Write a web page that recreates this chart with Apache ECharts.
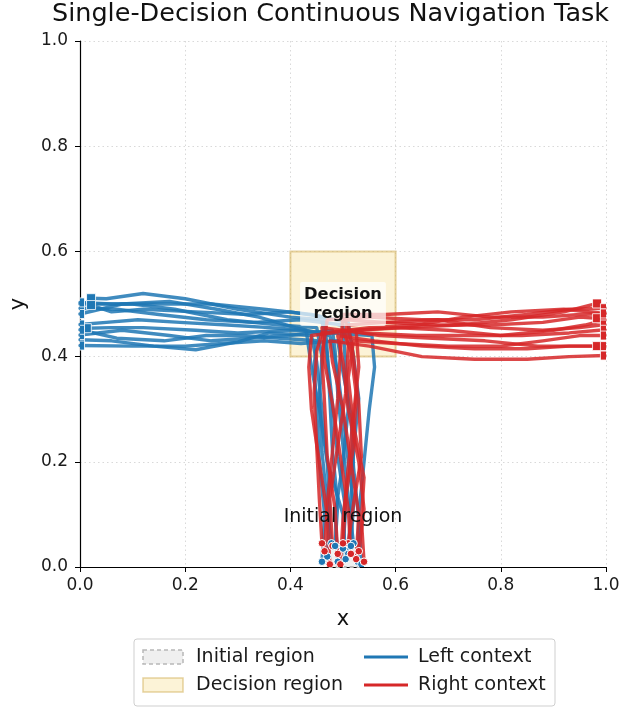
<!DOCTYPE html>
<html><head><meta charset="utf-8">
<script src="https://cdn.jsdelivr.net/npm/echarts@6/dist/echarts.min.js"></script>
<style>html,body{margin:0;padding:0;background:#fff}#c{width:634px;height:709px}</style>
</head><body><div id="c"></div>
<script>
// ---- data ----
const xTicks = [0.0, 0.2, 0.4, 0.6, 0.8, 1.0];
const yTicks = [0.0, 0.2, 0.4, 0.6, 0.8, 1.0];
const initialRegion = [0.47, 0.53, 0.0, 0.05];   // xmin, xmax, ymin, ymax
const decisionRegion = [0.4, 0.6, 0.4, 0.6];     // xmin, xmax, ymin, ymax
const initialLabelAt = [0.5, 0.095];
const decisionLabelAt = [0.5, 0.5];
const legendNames = ['Initial region', 'Decision region', 'Left context', 'Right context'];

const leftTrajectories = [
  [[0.478,0.045],[0.47,0.12],[0.46,0.22],[0.455,0.32],[0.46,0.40],[0.45,0.455],[0.38,0.46],[0.28,0.47],[0.18,0.49],[0.10,0.50],[0.04,0.50],[0.0,0.50]],
  [[0.50,0.035],[0.505,0.11],[0.49,0.21],[0.48,0.31],[0.47,0.40],[0.46,0.47],[0.40,0.475],[0.30,0.49],[0.20,0.51],[0.12,0.52],[0.05,0.51],[0.021,0.511]],
  [[0.528,0.01],[0.53,0.10],[0.54,0.20],[0.55,0.30],[0.56,0.38],[0.555,0.44],[0.48,0.445],[0.40,0.45],[0.30,0.445],[0.22,0.45],[0.12,0.455],[0.06,0.455],[0.013,0.454]],
  [[0.47,0.02],[0.475,0.10],[0.47,0.20],[0.46,0.30],[0.45,0.39],[0.44,0.44],[0.36,0.445],[0.30,0.428],[0.22,0.413],[0.14,0.42],[0.06,0.43],[0.0,0.432]],
  [[0.49,0.01],[0.485,0.10],[0.50,0.20],[0.51,0.30],[0.505,0.38],[0.50,0.46],[0.42,0.47],[0.33,0.465],[0.24,0.47],[0.15,0.48],[0.07,0.49],[0.0,0.492]],
  [[0.51,0.025],[0.515,0.12],[0.52,0.22],[0.53,0.32],[0.52,0.40],[0.51,0.465],[0.44,0.48],[0.35,0.49],[0.25,0.50],[0.14,0.50],[0.06,0.50],[0.0,0.503]],
  [[0.52,0.045],[0.51,0.13],[0.50,0.23],[0.49,0.33],[0.485,0.41],[0.48,0.45],[0.40,0.44],[0.32,0.435],[0.25,0.43],[0.17,0.44],[0.08,0.45],[0.0,0.441]],
  [[0.535,0.005],[0.53,0.09],[0.52,0.19],[0.515,0.29],[0.50,0.37],[0.49,0.43],[0.42,0.425],[0.35,0.43],[0.27,0.425],[0.20,0.42],[0.10,0.42],[0.0,0.421]],
  [[0.505,0.015],[0.50,0.10],[0.47,0.20],[0.455,0.30],[0.44,0.38],[0.43,0.45],[0.36,0.455],[0.28,0.46],[0.19,0.465],[0.11,0.47],[0.05,0.465],[0.0,0.461]],
  [[0.485,0.04],[0.49,0.12],[0.48,0.22],[0.475,0.32],[0.47,0.41],[0.465,0.475],[0.40,0.485],[0.32,0.48],[0.22,0.485],[0.12,0.49],[0.06,0.485],[0.021,0.498]],
  [[0.515,0.04],[0.52,0.12],[0.51,0.20],[0.50,0.29],[0.49,0.37],[0.475,0.44],[0.41,0.455],[0.34,0.475],[0.26,0.49],[0.17,0.505],[0.08,0.50],[0.0,0.481]],
  [[0.46,0.01],[0.465,0.10],[0.455,0.20],[0.45,0.30],[0.445,0.38],[0.45,0.43],[0.38,0.435],[0.31,0.44],[0.24,0.44],[0.16,0.43],[0.07,0.435],[0.0,0.451]]
];

const rightTrajectories = [
  [[0.475,0.005],[0.47,0.10],[0.455,0.20],[0.44,0.30],[0.435,0.38],[0.44,0.44],[0.52,0.45],[0.62,0.455],[0.72,0.46],[0.82,0.47],[0.92,0.485],[0.983,0.501]],
  [[0.49,0.025],[0.485,0.11],[0.47,0.21],[0.465,0.31],[0.46,0.40],[0.47,0.47],[0.55,0.475],[0.65,0.47],[0.75,0.47],[0.85,0.48],[0.93,0.49],[0.998,0.492]],
  [[0.51,0.045],[0.52,0.12],[0.535,0.21],[0.53,0.31],[0.52,0.40],[0.51,0.46],[0.58,0.465],[0.68,0.46],[0.78,0.46],[0.88,0.465],[0.95,0.475],[0.983,0.473]],
  [[0.53,0.03],[0.54,0.11],[0.53,0.20],[0.51,0.30],[0.50,0.39],[0.49,0.44],[0.56,0.43],[0.65,0.42],[0.75,0.415],[0.85,0.415],[0.93,0.42],[0.983,0.42]],
  [[0.465,0.03],[0.47,0.12],[0.48,0.22],[0.49,0.32],[0.495,0.41],[0.50,0.48],[0.58,0.48],[0.68,0.485],[0.78,0.475],[0.88,0.475],[0.95,0.48],[0.998,0.482]],
  [[0.495,0.005],[0.50,0.09],[0.51,0.19],[0.52,0.29],[0.53,0.38],[0.525,0.45],[0.60,0.455],[0.70,0.45],[0.80,0.44],[0.90,0.45],[0.96,0.46],[0.998,0.47]],
  [[0.525,0.015],[0.53,0.10],[0.515,0.20],[0.50,0.30],[0.48,0.39],[0.475,0.43],[0.55,0.42],[0.65,0.40],[0.75,0.395],[0.85,0.395],[0.93,0.40],[0.998,0.402]],
  [[0.48,0.04],[0.475,0.13],[0.49,0.23],[0.505,0.33],[0.51,0.42],[0.505,0.47],[0.58,0.465],[0.68,0.47],[0.78,0.455],[0.88,0.45],[0.95,0.455],[0.998,0.461]],
  [[0.515,0.025],[0.51,0.11],[0.495,0.21],[0.48,0.31],[0.465,0.39],[0.46,0.455],[0.54,0.445],[0.64,0.44],[0.74,0.44],[0.84,0.44],[0.93,0.445],[0.998,0.451]],
  [[0.50,0.045],[0.505,0.13],[0.52,0.23],[0.525,0.33],[0.515,0.41],[0.50,0.45],[0.57,0.44],[0.67,0.435],[0.77,0.43],[0.87,0.42],[0.94,0.42],[0.998,0.42]],
  [[0.46,0.045],[0.455,0.13],[0.45,0.23],[0.445,0.33],[0.45,0.41],[0.46,0.445],[0.55,0.455],[0.64,0.46],[0.73,0.475],[0.82,0.485],[0.92,0.49],[0.998,0.482]],
  [[0.54,0.01],[0.535,0.09],[0.54,0.17],[0.52,0.27],[0.51,0.36],[0.52,0.43],[0.60,0.425],[0.70,0.42],[0.80,0.42],[0.88,0.43],[0.95,0.44],[0.998,0.44]]
];

// ---- styles ----
const FONT = 'DejaVu Sans';
const BLUE = '#1f77b4';
const RED = '#d62728';
const DEC_FILL = 'rgba(246,212,110,0.28)';
const DEC_EDGE = 'rgba(214,182,100,0.6)';
const INI_FILL = 'rgba(210,210,210,0.35)';
const INI_EDGE = '#b8b8b8';
const TEXT_FONT = '19px "DejaVu Sans"';

const chart = echarts.init(document.getElementById('c'), null, {renderer: 'canvas'});

function regionSeries(region, fill, stroke, dash) {
  return {
    type: 'custom', clip: false, silent: true, z: 1,
    data: [region],
    encode: {x: [0, 1], y: [2, 3]},
    renderItem: function (params, api) {
      const p0 = api.coord([api.value(0), api.value(3)]);
      const p1 = api.coord([api.value(1), api.value(2)]);
      return {type: 'rect', shape: {x: p0[0], y: p0[1], width: p1[0] - p0[0], height: p1[1] - p0[1]},
        style: {fill: fill, stroke: stroke, lineWidth: 2, lineDash: dash}};
    }
  };
}

function endSeries(points, color) {
  return {
    type: 'custom', clip: true, silent: true, z: 5,
    data: points,
    renderItem: function (params, api) {
      const p = api.coord([api.value(0), api.value(1)]);
      return {type: 'rect', shape: {x: p[0] - 4.5, y: p[1] - 4.5, width: 9, height: 9},
        style: {fill: color, stroke: '#fff', lineWidth: 0.8}};
    }
  };
}

function textSeries(pos, text, font, bg) {
  return {
    type: 'custom', clip: false, silent: true, z: 10,
    data: [pos],
    renderItem: function (params, api) {
      const p = api.coord([api.value(0), api.value(1)]);
      const st = {text: text, x: p[0], y: p[1], align: 'center', verticalAlign: 'middle',
        font: font, fill: '#111', lineHeight: 19};
      if (bg) { st.backgroundColor = 'rgba(255,255,255,0.72)'; st.padding = [3, 4]; st.borderRadius = 2; }
      return {type: 'text', style: st};
    }
  };
}

const series = [];
series.push(regionSeries(decisionRegion, DEC_FILL, DEC_EDGE, null));
series.push(regionSeries(initialRegion, INI_FILL, INI_EDGE, [4, 3]));
leftTrajectories.forEach(function (t) {
  series.push({type: 'line', name: 'Left context', data: t, showSymbol: false, symbol: 'none', clip: true, z: 3,
    silent: true, lineStyle: {color: BLUE, width: 3.4, opacity: 0.85, join: 'round', cap: 'round'}});
});
rightTrajectories.forEach(function (t) {
  series.push({type: 'line', name: 'Right context', data: t, showSymbol: false, symbol: 'none', clip: true, z: 3,
    silent: true, lineStyle: {color: RED, width: 3.4, opacity: 0.85, join: 'round', cap: 'round'}});
});
const starts = [];
leftTrajectories.forEach(function (t, i) {
  starts.push({value: t[0], c: BLUE});
  starts.push({value: rightTrajectories[i][0], c: RED});
});
series.push({
  type: 'custom', clip: true, silent: true, z: 5,
  data: starts.map(function (s) { return s.value; }),
  renderItem: function (params, api) {
    const p = api.coord([api.value(0), api.value(1)]);
    return {type: 'circle', shape: {cx: p[0], cy: p[1], r: 3.8},
      style: {fill: starts[params.dataIndex].c, stroke: '#fff', lineWidth: 1}};
  }
});
series.push(endSeries(leftTrajectories.map(function (t) { return t[t.length - 1]; }), BLUE));
series.push(endSeries(rightTrajectories.map(function (t) { return t[t.length - 1]; }), RED));
series.push(textSeries(initialLabelAt, 'Initial region', TEXT_FONT, false));
series.push(textSeries(decisionLabelAt, 'Decision\nregion', 'bold 16.3px "DejaVu Sans"', true));

function axisCommon(ticks) {
  return {
    type: 'value', min: ticks[0], max: ticks[ticks.length - 1], interval: ticks[1] - ticks[0],
    axisLine: {show: true, onZero: false, lineStyle: {color: '#000', width: 1.2}},
    axisTick: {show: true, inside: false, length: 5, lineStyle: {color: '#000', width: 1}},
    axisLabel: {color: '#1a1a1a', fontSize: 17, fontFamily: FONT, formatter: function (v) { return v.toFixed(1); }},
    splitLine: {show: true, lineStyle: {color: '#d9d9d9', type: [1.5, 3], width: 1}},
    nameLocation: 'middle',
    nameTextStyle: {color: '#111', fontSize: 21, fontFamily: FONT}
  };
}
const xAxis = axisCommon(xTicks);
xAxis.name = 'x'; xAxis.nameGap = 42; xAxis.axisLabel.margin = 10;
const yAxis = axisCommon(yTicks);
yAxis.name = 'y'; yAxis.nameGap = 51; yAxis.axisLabel.margin = 12;

// legend (drawn as graphic)
const graphic = [
  {type: 'rect', shape: {x: 134, y: 639, width: 421, height: 67, r: 3}, style: {fill: '#fff', stroke: '#cfcfcf', lineWidth: 1}, z: 100},
  {type: 'rect', shape: {x: 143, y: 650, width: 40, height: 14}, style: {fill: INI_FILL, stroke: INI_EDGE, lineWidth: 1.5, lineDash: [4, 3]}, z: 101},
  {type: 'text', style: {x: 196, y: 657, text: legendNames[0], font: TEXT_FONT, fill: '#1a1a1a', verticalAlign: 'middle'}, z: 101},
  {type: 'rect', shape: {x: 143, y: 678, width: 40, height: 14}, style: {fill: DEC_FILL, stroke: DEC_EDGE, lineWidth: 1.5}, z: 101},
  {type: 'text', style: {x: 196, y: 685, text: legendNames[1], font: TEXT_FONT, fill: '#1a1a1a', verticalAlign: 'middle'}, z: 101},
  {type: 'line', shape: {x1: 364, y1: 657, x2: 408, y2: 657}, style: {stroke: BLUE, lineWidth: 3}, z: 101},
  {type: 'text', style: {x: 418, y: 657, text: legendNames[2], font: TEXT_FONT, fill: '#1a1a1a', verticalAlign: 'middle'}, z: 101},
  {type: 'line', shape: {x1: 364, y1: 685, x2: 408, y2: 685}, style: {stroke: RED, lineWidth: 3}, z: 101},
  {type: 'text', style: {x: 418, y: 685, text: legendNames[3], font: TEXT_FONT, fill: '#1a1a1a', verticalAlign: 'middle'}, z: 101}
];

chart.setOption({
  animation: false,
  backgroundColor: '#fff',
  title: {text: 'Single-Decision Continuous Navigation Task', left: 52, top: 1, padding: 0,
    textStyle: {fontFamily: FONT, fontSize: 25.5, fontWeight: 'normal', color: '#111'}},
  grid: {left: 80, right: 28, top: 41, bottom: 142, containLabel: false, outerBoundsMode: 'none'},
  xAxis: xAxis,
  yAxis: yAxis,
  series: series,
  graphic: graphic
});
</script>
</body></html>
